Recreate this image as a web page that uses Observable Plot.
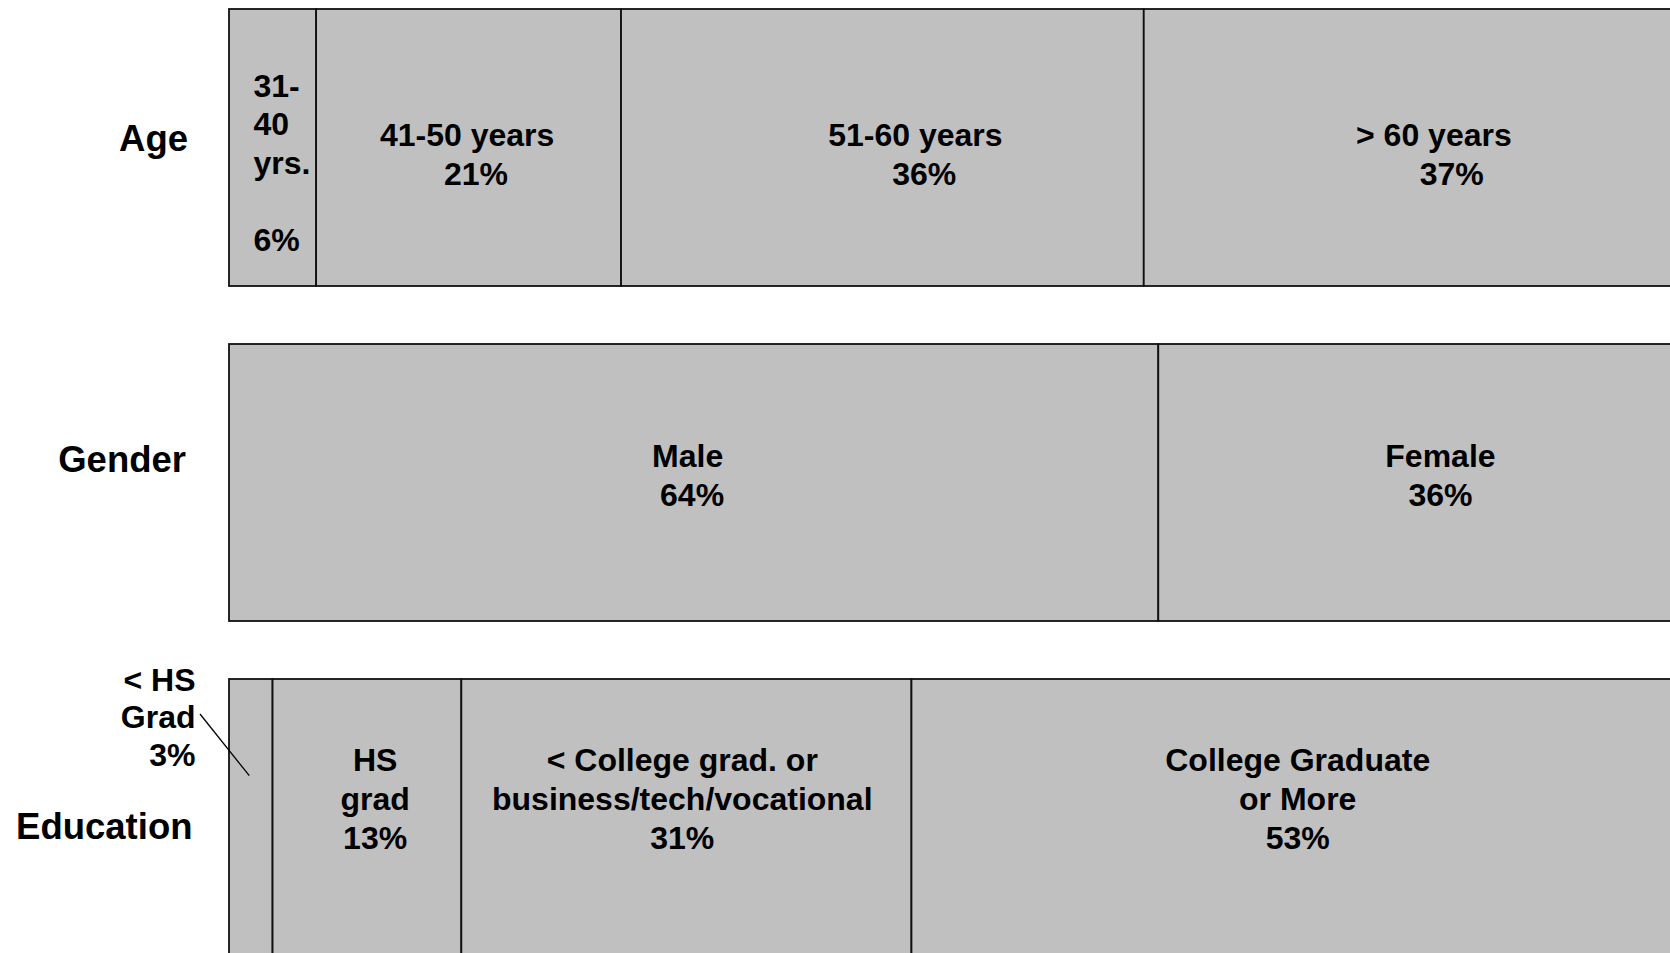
<!DOCTYPE html>
<html>
<head>
<meta charset="utf-8">
<script src="https://cdn.jsdelivr.net/npm/d3@7"></script>
<script src="https://cdn.jsdelivr.net/npm/@observablehq/plot@0.6"></script>
<style>
  html, body { margin: 0; padding: 0; background: #fff; overflow: hidden; }
  #chart svg { display: block; }
</style>
</head>
<body>
<div id="chart"></div>
<script>
// ---- data ----
const rows = ["Age", "Gender", "Education"];

const ageCategories = ["31-40 yrs.", "41-50 years", "51-60 years", "> 60 years"];
const agePercents = [6, 21, 36, 37];
const ageLabels = ["31-\n40\nyrs.\n\n6%", "41-50 years\n  21%", "51-60 years\n  36%", "> 60 years\n    37%"];

const genderCategories = ["Male", "Female"];
const genderPercents = [64, 36];
const genderLabels = ["Male\n 64%", "Female\n36%"];

const educationCategories = ["< HS Grad", "HS grad", "< College grad. or business/tech/vocational", "College Graduate or More"];
const educationPercents = [3, 13, 31, 53];
const educationLabels = ["< HS\nGrad\n3%", "HS\ngrad\n13%", "< College grad. or\nbusiness/tech/vocational\n31%", "College Graduate\nor More\n53%"];

// ---- derived table ----
function segments(row, cats, vals, labels) {
  let acc = 0;
  return cats.map((c, i) => {
    const s = {row, category: c, value: vals[i], label: labels[i], x1: acc, x2: acc + vals[i]};
    acc += vals[i];
    return s;
  });
}
const table = [
  ...segments("Age", ageCategories, agePercents, ageLabels),
  ...segments("Gender", genderCategories, genderPercents, genderLabels),
  ...segments("Education", educationCategories, educationPercents, educationLabels)
];

// ---- styles (label placement tweaks) ----
const rowLabelStyle = {
  Age: {dx: -41.5, dy: -8.5},
  Gender: {dx: -43.5, dy: -22.3},
  Education: {dx: -37, dy: 9.5}
};
const rowTextStyle = {
  Age: {dy: 5.4, lineHeight: 1.2},
  Gender: {dy: -8.6, lineHeight: 1.2},
  Education: {dy: -20.7, lineHeight: 1.23}
};
const segLabelStyle = {
  "31-40 yrs.": {anchor: "start", at: "x1", dx: 24, dy: 13.5, lineHeight: 1.2},
  "41-50 years": {dx: -2},
  "51-60 years": {dx: 32.5},
  "> 60 years": {dx: 21},
  "Male": {dx: -6.5},
  "Female": {dx: 20.3},
  "< HS Grad": {anchor: "end", at: "x1", dx: -34, dy: -101.7, lineHeight: 1.18},
  "HS grad": {dx: 7.7},
  "< College grad. or business/tech/vocational": {dx: -4.6},
  "College Graduate or More": {dx: 1}
};

const font = "Arial, 'Liberation Sans', Helvetica, sans-serif";

const segTextMarks = table.map(d => {
  const s = segLabelStyle[d.category] || {};
  const r = rowTextStyle[d.row];
  return Plot.text([d], {
    x: s.at === "x1" ? "x1" : (e => (e.x1 + e.x2) / 2),
    y: "row",
    text: "label",
    textAnchor: s.anchor || "middle",
    dx: s.dx || 0,
    dy: s.dy !== undefined ? s.dy : r.dy,
    lineHeight: s.lineHeight || r.lineHeight,
    fontSize: 32,
    fontWeight: "bold",
    fontFamily: font,
    fill: "black"
  });
});

const rowLabelMarks = rows.map(r => Plot.text([r], {
  y: d => d,
  text: d => d,
  frameAnchor: "left",
  textAnchor: "end",
  dx: rowLabelStyle[r].dx,
  dy: rowLabelStyle[r].dy,
  fontSize: 36.5,
  fontWeight: "bold",
  fontFamily: font,
  fill: "black"
}));

// connector from the "< HS Grad" label into its thin segment
function connector(index, scales) {
  const x = scales.x, y = scales.y;
  const seg = table.find(d => d.category === "< HS Grad");
  const bw = y.bandwidth ? y.bandwidth() : 0;
  const yc = y(seg.row) + bw / 2;
  const line = document.createElementNS("http://www.w3.org/2000/svg", "line");
  line.setAttribute("x1", x(seg.x1) - 29);
  line.setAttribute("y1", yc - 103.5);
  line.setAttribute("x2", x((seg.x1 + seg.x2) / 2) - 1.5);
  line.setAttribute("y2", yc - 41.8);
  line.setAttribute("stroke", "black");
  line.setAttribute("stroke-width", 1.3);
  return line;
}

const chart = Plot.plot({
  width: 1670,
  height: 953,
  marginLeft: 229,
  marginRight: 0,
  marginTop: 0,
  marginBottom: 0,
  style: {background: "white", overflow: "hidden", fontFamily: font},
  x: {domain: [0, 100], range: [229, 1681], axis: null},
  y: {domain: rows, range: [7.5, 957.5], paddingInner: 0.1726, paddingOuter: 0, align: 0.5, axis: null},
  marks: [
    Plot.barX(table, {x1: "x1", x2: "x2", y: "row", fill: "#c0c0c0", stroke: "#111", strokeWidth: 1.8}),
    ...segTextMarks,
    ...rowLabelMarks,
    connector
  ]
});
document.getElementById("chart").appendChild(chart);
</script>
</body>
</html>
